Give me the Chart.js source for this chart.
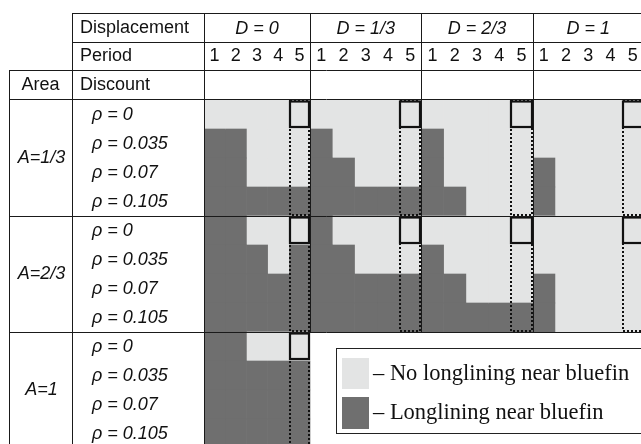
<!DOCTYPE html>
<html><head><meta charset="utf-8">
<script src="https://cdn.jsdelivr.net/npm/chart.js@4.4.0/dist/chart.umd.min.js"></script>
<style>html,body{margin:0;padding:0;background:#fff;overflow:hidden;width:641px;height:444px}canvas{display:block}</style>
</head><body>
<canvas id="c" width="646" height="448"></canvas>
<script>
// ---- data ----
const displacements = ['D = 0', 'D = 1/3', 'D = 2/3', 'D = 1'];
const periods = ['1', '2', '3', '4', '5'];
const areas = ['A=1/3', 'A=2/3', 'A=1'];
const discounts = ['ρ = 0', 'ρ = 0.035', 'ρ = 0.07', 'ρ = 0.105'];
const headerLabels = ['Displacement', 'Period', 'Area', 'Discount'];
const legendLabels = ['– No longlining near bluefin', '– Longlining near bluefin'];
// 1 = longlining near bluefin, 0 = no longlining; one string per discount row (periods 1..5)
const areaOneThird = [
  ['00000', '11000', '11000', '11111'],  // D = 0
  ['00000', '10000', '11000', '11111'],  // D = 1/3
  ['00000', '10000', '10000', '11000'],  // D = 2/3
  ['00000', '00000', '10000', '10000']   // D = 1
];
const areaTwoThirds = [
  ['11000', '11101', '11111', '11111'],
  ['10000', '11000', '11111', '11111'],
  ['00000', '10000', '11000', '11111'],
  ['00000', '00000', '10000', '10000']
];
const areaOne = [
  ['11000', '11111', '11111', '11111'],
  null, null, null
];
const areaData = [areaOneThird, areaTwoThirds, areaOne];

const LIGHT = '#e3e4e4', DARK = '#6f6f6f';
// layout (pixels)
const GRID_LEFT = 204, FIRST_BLOCK_RIGHT = 310, GRID_RIGHT = 644, GRID_TOP = 100;
const W = 646, H = 448;
const areaW = GRID_RIGHT - GRID_LEFT;
const restUnit = (GRID_RIGHT - FIRST_BLOCK_RIGHT) / 15;

// ---- build chart table ----
const rowLabels = [];
areas.forEach(() => discounts.forEach(d => rowLabels.push(d)));
const datasets = [];
displacements.forEach((dLab, di) => {
  periods.forEach((p, pi) => {
    const data = [], colors = [];
    areaData.forEach(blk => {
      discounts.forEach((r, ri) => {
        const rowStr = blk[di] ? blk[di][ri] : null;
        if (rowStr === null) { data.push(null); colors.push('rgba(0,0,0,0)'); }
        else { data.push(1); colors.push(rowStr[pi] === '1' ? DARK : LIGHT); }
      });
    });
    datasets.push({ label: dLab + ' p' + p, data, backgroundColor: colors, borderWidth: 0,
      barPercentage: 1, categoryPercentage: 1, xAxisID: di === 0 ? 'xFirst' : 'xRest' });
  });
});

const tablePlugin = {
  id: 'table',
  afterDatasetsDraw(chart) {
    const ctx = chart.ctx, ca = chart.chartArea;
    const x0 = chart.scales.xFirst, x1 = chart.scales.xRest;
    const rowH = (ca.bottom - ca.top) / rowLabels.length;
    const X = v => v <= 5 ? x0.getPixelForValue(v) : x1.getPixelForValue(v - 5);
    const xArea = 9, xDisc = 72, xGrid = ca.left, xRight = ca.right;
    const yTop = ca.top - 3 * rowH;
    ctx.save();
    // dotted columns and solid boxes for period 5
    areaData.forEach((blk, bi) => {
      blk.forEach((dd, di) => {
        if (!dd) return;
        const xa = Math.round(X(di * 5 + 4)), xb = Math.round(X(di * 5 + 5));
        const y1 = Math.round(ca.top + bi * 4 * rowH), y2 = Math.round(y1 + 4 * rowH);
        ctx.strokeStyle = '#111'; ctx.lineWidth = 2;
        ctx.setLineDash([2, 2]);
        ctx.strokeRect(xa + 1, y1 + 1, xb - xa - 2, y2 - y1 - 2);
        ctx.setLineDash([]);
        ctx.lineWidth = 2.2;
        ctx.strokeRect(xa + 1, y1 + 1.5, xb - xa - 2, rowH - 3.5);
      });
    });
    // table lines
    ctx.strokeStyle = '#1a1a1a'; ctx.lineWidth = 1;
    const h = (y, xa, xb) => { ctx.beginPath(); ctx.moveTo(xa, Math.round(y) + 0.5); ctx.lineTo(xb, Math.round(y) + 0.5); ctx.stroke(); };
    const v = (x, ya, yb) => { ctx.beginPath(); ctx.moveTo(Math.round(x) + 0.5, ya); ctx.lineTo(Math.round(x) + 0.5, yb); ctx.stroke(); };
    h(yTop, xDisc, xRight); h(yTop + rowH, xDisc, xRight);
    h(yTop + 2 * rowH - 1, xArea, xRight); h(ca.top - 1, xArea, xRight);
    h(ca.top + 4 * rowH, xArea, xRight); h(ca.top + 8 * rowH, xArea, xRight);
    v(xArea, yTop + 2 * rowH - 1, ca.bottom); v(xDisc, yTop, ca.bottom); v(xGrid, yTop, ca.bottom);
    [5, 10, 15].forEach(b => v(X(b), yTop, ca.top + 8 * rowH));
    // header text
    ctx.fillStyle = '#111'; ctx.textBaseline = 'middle';
    const sans = '"Liberation Sans", Arial, sans-serif';
    ctx.font = '18px ' + sans; ctx.textAlign = 'left';
    ctx.fillText(headerLabels[0], 80, yTop + rowH / 2 + 1);
    ctx.fillText(headerLabels[1], 80, yTop + 1.5 * rowH);
    ctx.fillText(headerLabels[3], 80, yTop + 2.5 * rowH);
    ctx.textAlign = 'center';
    ctx.fillText(headerLabels[2], (xArea + xDisc) / 2, yTop + 2.5 * rowH);
    displacements.forEach((d, di) => {
      periods.forEach((p, pi) => ctx.fillText(p, X(di * 5 + pi + 0.5), yTop + 1.5 * rowH));
    });
    ctx.font = 'italic 18px ' + sans;
    displacements.forEach((d, di) => ctx.fillText(d, (X(di * 5) + X(di * 5 + 5)) / 2, yTop + rowH / 2 + 1));
    areas.forEach((a, ai) => ctx.fillText(a, (xArea + xDisc) / 2 + 1, ca.top + (ai * 4 + 2) * rowH));
    ctx.textAlign = 'left';
    rowLabels.forEach((r, ri) => ctx.fillText(r, 92, ca.top + (ri + 0.5) * rowH));
    // legend
    ctx.fillStyle = '#fff';
    ctx.fillRect(336, 348, 320, 86);
    ctx.strokeStyle = '#222'; ctx.lineWidth = 1;
    ctx.strokeRect(336.5, 348.5, 320, 85);
    ctx.fillStyle = LIGHT; ctx.fillRect(342, 358, 27, 31);
    ctx.fillStyle = DARK; ctx.fillRect(342, 397, 27, 32);
    ctx.fillStyle = '#111'; ctx.textBaseline = 'alphabetic';
    ctx.font = '22.5px "Liberation Serif", "Times New Roman", serif';
    ctx.fillText(legendLabels[0], 373, 380);
    ctx.fillText(legendLabels[1], 373, 419);
    ctx.restore();
  }
};

new Chart(document.getElementById('c'), {
  type: 'bar',
  data: { labels: rowLabels, datasets },
  options: {
    indexAxis: 'y',
    responsive: false,
    animation: false,
    layout: { padding: { left: GRID_LEFT, top: GRID_TOP, right: W - GRID_RIGHT, bottom: 0 } },
    scales: {
      xFirst: { type: 'linear', axis: 'x', min: 0, max: 5 * areaW / (FIRST_BLOCK_RIGHT - GRID_LEFT), stacked: true, display: false },
      xRest: { type: 'linear', axis: 'x', min: -(FIRST_BLOCK_RIGHT - GRID_LEFT) / restUnit, max: 15, stacked: true, display: false },
      y: { type: 'category', stacked: true, display: false }
    },
    plugins: { legend: { display: false }, tooltip: { enabled: false } }
  },
  plugins: [tablePlugin]
});
</script>
</body></html>
